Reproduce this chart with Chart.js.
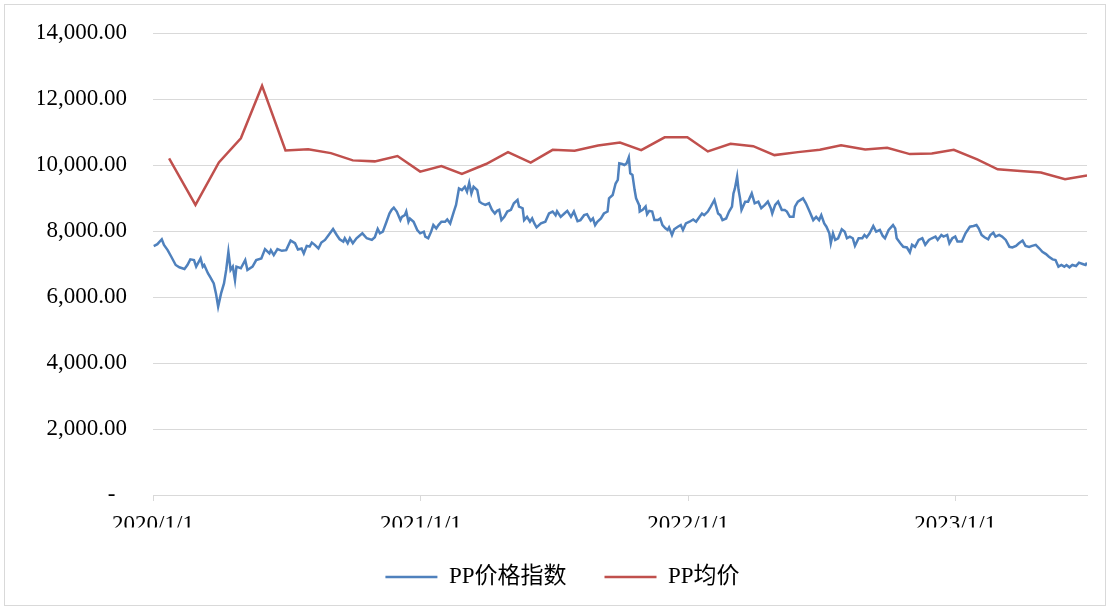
<!DOCTYPE html>
<html>
<head>
<meta charset="utf-8">
<script src="https://cdn.jsdelivr.net/npm/chart.js@4.4.1/dist/chart.umd.min.js"></script>
<style>
html,body{margin:0;padding:0;background:#fff;}
#wrap{position:relative;width:1110px;height:610px;}
canvas{display:block;}
</style>
</head>
<body>
<div id="wrap"><canvas id="c" width="1110" height="610"></canvas></div>
<script>
// ---- Data ----
const seriesNames = ['PP价格指数', 'PP均价'];

// PP price index (daily series, sampled)
const indexDates = [
  '2020-01-02','2020-01-07','2020-01-13','2020-01-16','2020-01-21','2020-01-26',
  '2020-02-01','2020-02-06','2020-02-13','2020-02-17','2020-02-21','2020-02-26','2020-02-29',
  '2020-03-06','2020-03-09','2020-03-11','2020-03-16','2020-03-20','2020-03-24','2020-03-27','2020-03-30',
  '2020-04-03','2020-04-07','2020-04-10','2020-04-13','2020-04-16','2020-04-19','2020-04-22','2020-04-24','2020-04-30',
  '2020-05-06','2020-05-09','2020-05-16','2020-05-21','2020-05-28',
  '2020-06-02','2020-06-08','2020-06-10','2020-06-14','2020-06-19','2020-06-25',
  '2020-07-01','2020-07-07','2020-07-13','2020-07-17','2020-07-22','2020-07-25','2020-07-29',
  '2020-08-02','2020-08-05','2020-08-09','2020-08-14','2020-08-18','2020-08-23','2020-08-28',
  '2020-09-03','2020-09-08','2020-09-12','2020-09-17','2020-09-19','2020-09-23','2020-09-26','2020-09-30',
  '2020-10-05','2020-10-13','2020-10-19','2020-10-26','2020-10-30',
  '2020-11-03','2020-11-06','2020-11-10','2020-11-15','2020-11-19','2020-11-22','2020-11-25','2020-11-29',
  '2020-12-04','2020-12-06','2020-12-10','2020-12-12','2020-12-15','2020-12-17','2020-12-22','2020-12-27','2020-12-31',
  '2021-01-05','2021-01-07','2021-01-11','2021-01-15','2021-01-18','2021-01-22','2021-01-25','2021-01-29',
  '2021-02-03','2021-02-06','2021-02-10','2021-02-15','2021-02-18','2021-02-22','2021-02-26',
  '2021-03-02','2021-03-05','2021-03-08','2021-03-11','2021-03-14','2021-03-19','2021-03-22','2021-03-25','2021-03-30',
  '2021-04-04','2021-04-08','2021-04-12','2021-04-15','2021-04-18','2021-04-21','2021-04-25','2021-04-29',
  '2021-05-04','2021-05-08','2021-05-13','2021-05-15','2021-05-20','2021-05-22','2021-05-26','2021-05-30',
  '2021-06-02','2021-06-05','2021-06-08','2021-06-14','2021-06-20','2021-06-25','2021-06-30',
  '2021-07-04','2021-07-06','2021-07-11','2021-07-16','2021-07-20','2021-07-25','2021-07-29',
  '2021-08-03','2021-08-07','2021-08-12','2021-08-16','2021-08-21','2021-08-24','2021-08-27','2021-08-30',
  '2021-09-04','2021-09-08','2021-09-13','2021-09-15','2021-09-20','2021-09-24','2021-09-27','2021-09-29',
  '2021-10-03','2021-10-06','2021-10-09','2021-10-12','2021-10-14','2021-10-17','2021-10-20','2021-10-22','2021-10-26','2021-10-27','2021-10-31',
  '2021-11-04','2021-11-06','2021-11-09','2021-11-13','2021-11-16','2021-11-21','2021-11-24','2021-11-27',
  '2021-12-01','2021-12-04','2021-12-06','2021-12-10','2021-12-13','2021-12-18','2021-12-22','2021-12-25','2021-12-29',
  '2022-01-03','2022-01-08','2022-01-12','2022-01-16','2022-01-20','2022-01-23','2022-01-28',
  '2022-02-01','2022-02-06','2022-02-11','2022-02-14','2022-02-17','2022-02-22','2022-02-26',
  '2022-03-02','2022-03-04','2022-03-06','2022-03-09','2022-03-11','2022-03-13','2022-03-15','2022-03-20','2022-03-24','2022-03-29',
  '2022-04-02','2022-04-07','2022-04-11','2022-04-16','2022-04-20','2022-04-24','2022-04-26','2022-04-30',
  '2022-05-04','2022-05-09','2022-05-13','2022-05-16','2022-05-20','2022-05-25','2022-05-27','2022-05-31',
  '2022-06-07','2022-06-11','2022-06-16','2022-06-21','2022-06-25','2022-06-29',
  '2022-07-02','2022-07-06','2022-07-09','2022-07-13','2022-07-15','2022-07-18','2022-07-21','2022-07-25','2022-07-30',
  '2022-08-03','2022-08-06','2022-08-10','2022-08-14','2022-08-17','2022-08-22','2022-08-27','2022-08-30',
  '2022-09-02','2022-09-06','2022-09-11','2022-09-15','2022-09-20','2022-09-24','2022-09-27',
  '2022-10-02','2022-10-08','2022-10-11','2022-10-13','2022-10-18','2022-10-22','2022-10-27','2022-10-31',
  '2022-11-03','2022-11-07','2022-11-12','2022-11-17','2022-11-21','2022-11-26','2022-11-30',
  '2022-12-05','2022-12-08','2022-12-13','2022-12-16','2022-12-21','2022-12-24','2022-12-28',
  '2023-01-01','2023-01-04','2023-01-10','2023-01-15','2023-01-21','2023-01-26','2023-01-30',
  '2023-02-02','2023-02-06','2023-02-10','2023-02-15','2023-02-18','2023-02-22','2023-02-25',
  '2023-03-02','2023-03-06','2023-03-11','2023-03-16','2023-03-20','2023-03-25','2023-03-29',
  '2023-04-03','2023-04-07','2023-04-12','2023-04-16','2023-04-21','2023-04-26','2023-04-30',
  '2023-05-05','2023-05-09','2023-05-14','2023-05-18','2023-05-22','2023-05-26','2023-05-30',
  '2023-06-02','2023-06-06','2023-06-10','2023-06-15','2023-06-19','2023-06-24','2023-06-28','2023-06-30'
];
const indexValues = [
  7545,7600,7750,7575,7420,7220,
  6970,6900,6850,6970,7140,7120,6920,
  7170,6920,6970,6720,6570,6410,6110,5710,
  6110,6410,6820,7370,6820,6920,6510,6920,6870,
  7120,6820,6920,7120,7170,
  7450,7320,7420,7270,7450,7400,
  7420,7710,7630,7440,7470,7320,7550,
  7530,7650,7580,7470,7650,7730,7880,
  8060,7880,7750,7680,7780,7630,7780,7630,
  7780,7930,7780,7730,7810,
  8060,7930,7980,8280,8530,8640,8710,8590,
  8330,8430,8480,8590,8280,8380,8280,8030,7930,
  7980,7830,7780,7980,8180,8080,8180,8280,
  8280,8350,8230,8590,8790,9290,9240,
  9340,9190,9460,9140,9340,9240,8890,8840,8790,
  8840,8640,8530,8610,8640,8330,8430,8590,
  8640,8840,8940,8740,8690,8330,8430,8280,
  8380,8230,8110,8230,8280,8530,8590,
  8480,8600,8430,8530,8610,8430,8590,
  8300,8330,8480,8510,8310,8380,8180,8280,
  8380,8530,8590,8990,9090,9440,9550,10050,
  10030,10000,10050,10230,9750,9700,9240,8990,8790,8590,8640,
  8740,8510,8610,8590,8330,8330,8380,8180,
  8080,8030,8110,7880,8050,8130,8180,8030,8230,
  8280,8350,8280,8410,8530,8480,8590,
  8740,8940,8530,8480,8330,8380,8590,
  8740,9140,9290,9650,9240,8990,8640,8890,8890,9140,
  8840,8890,8690,8790,8890,8690,8530,8790,
  8890,8640,8640,8590,8430,8430,8740,8890,
  8990,8840,8590,8330,8430,8330,
  8480,8230,8130,7930,7630,7930,7730,7780,8050,
  7980,7780,7830,7780,7550,7780,7780,7880,
  7810,7930,8150,7980,8030,7850,7780,
  8030,8180,8080,7780,7630,7520,7500,7350,
  7580,7520,7730,7780,7580,7730,7780,
  7830,7730,7880,7830,7880,7630,7780,
  7830,7680,7680,7930,8130,8150,8180,
  8080,7880,7810,7750,7880,7950,7830,
  7880,7830,7730,7520,7500,7550,7630,
  7710,7550,7520,7550,7580,7470,7370,
  7300,7220,7140,7120,6920,6970,6920,
  6970,6900,6970,6940,7040,7000,6970,7040
];

// PP average price (month-end values)
const avgDates = [
  '2020-01-23','2020-02-28','2020-03-31','2020-04-30','2020-05-29','2020-06-30',
  '2020-07-31','2020-08-31','2020-09-30','2020-10-30','2020-11-30','2020-12-31',
  '2021-01-29','2021-02-26','2021-03-31','2021-04-30','2021-05-31','2021-06-30',
  '2021-07-30','2021-08-31','2021-09-30','2021-10-29','2021-11-30','2021-12-31',
  '2022-01-28','2022-02-28','2022-03-31','2022-04-29','2022-05-31','2022-06-30',
  '2022-07-29','2022-08-31','2022-09-30','2022-10-31','2022-11-30','2022-12-30',
  '2023-01-31','2023-02-28','2023-03-31','2023-04-28','2023-05-31','2023-06-30'
];
const avgValues = [
  10200, 8790,10080,10810,12400,10440,
  10480,10360,10140,10110,10270, 9800,
   9970, 9730,10030,10390,10070,10460,
  10430,10590,10680,10450,10840,10840,
  10410,10640,10570,10300,10390,10460,
  10600,10470,10520,10330,10350,10460,
  10170, 9870, 9820, 9770, 9570, 9680
];

const xStartDate = '2020-01-01';
const xEndDate = '2023-06-30';
const xTickDates = ['2020-01-01','2021-01-01','2022-01-01','2023-01-01'];
const xTickLabels = ['2020/1/1','2021/1/1','2022/1/1','2023/1/1'];
const yMin = 0, yMax = 14000, yStep = 2000;

// ---- helpers ----
const base = Date.UTC(2020, 0, 1);
function toDay(s) {
  const [y, m, d] = s.split('-').map(Number);
  return Math.round((Date.UTC(y, m - 1, d) - base) / 86400000);
}
const indexPoints = indexDates.map((d, i) => ({x: toDay(d), y: indexValues[i]}));
const avgPoints = avgDates.map((d, i) => ({x: toDay(d), y: avgValues[i]}));
const tickDays = xTickDates.map(toDay);

const FONT = "'Liberation Serif', 'Times New Roman', 'Noto Sans CJK SC', serif";
const FSIZE = 23;
const BLUE = '#4F81BD';
const RED = '#C0504D';
const GRID = '#d9d9d9';

const borderPlugin = {
  id: 'outerBorder',
  beforeDraw(chart) {
    const ctx = chart.ctx;
    ctx.save();
    ctx.fillStyle = '#fff';
    ctx.fillRect(0, 0, chart.width, chart.height);
    ctx.strokeStyle = GRID;
    ctx.lineWidth = 1;
    ctx.strokeRect(4.5, 4.5, chart.width - 9, chart.height - 9);
    ctx.restore();
  }
};

new Chart(document.getElementById('c'), {
  type: 'line',
  data: {
    datasets: [
      {
        label: seriesNames[0],
        data: indexPoints,
        borderColor: BLUE,
        backgroundColor: BLUE,
        borderWidth: 2.5,
        pointRadius: 0,
        tension: 0
      },
      {
        label: seriesNames[1],
        data: avgPoints,
        borderColor: RED,
        backgroundColor: RED,
        borderWidth: 2.5,
        pointRadius: 0,
        tension: 0
      }
    ]
  },
  options: {
    responsive: false,
    animation: false,
    devicePixelRatio: 1,
    layout: {padding: {left: 38, right: 23, top: 33, bottom: 11.5}},
    scales: {
      x: {
        type: 'linear',
        min: toDay(xStartDate),
        max: toDay(xEndDate),
        afterBuildTicks(scale) {
          scale.ticks = tickDays.map(v => ({value: v}));
        },
        afterFit(scale) { scale.height = 32.5; },
        ticks: {
          autoSkip: false,
          maxRotation: 0,
          padding: 10,
          color: '#000',
          font: {family: FONT, size: FSIZE},
          callback(value) {
            const i = tickDays.indexOf(value);
            return i >= 0 ? xTickLabels[i] : '';
          }
        },
        grid: {
          drawOnChartArea: false,
          drawTicks: true,
          tickLength: 6,
          color: GRID
        },
        border: {display: true, color: GRID, width: 1}
      },
      y: {
        min: yMin,
        max: yMax,
        afterFit(scale) { scale.width = 115; },
        ticks: {
          stepSize: yStep,
          padding: 6,
          color: '#000',
          font: {family: FONT, size: FSIZE},
          callback(value) {
            if (value === 0) return '-  ';
            return value.toLocaleString('en-US', {minimumFractionDigits: 2, maximumFractionDigits: 2});
          }
        },
        grid: {
          color: GRID,
          lineWidth: 1,
          drawTicks: true,
          tickLength: 20,
          tickColor: 'rgba(0,0,0,0)'
        },
        border: {display: false}
      }
    },
    plugins: {
      legend: {
        position: 'bottom',
        align: 'center',
        labels: {
          boxWidth: 52,
          boxHeight: 2.5,
          padding: 38,
          color: '#000',
          font: {family: FONT, size: FSIZE},
          generateLabels(chart) {
            return chart.data.datasets.map((ds, i) => ({
              text: ds.label,
              fillStyle: ds.borderColor,
              strokeStyle: ds.borderColor,
              lineWidth: 0,
              hidden: false,
              datasetIndex: i,
              fontColor: '#000'
            }));
          }
        }
      },
      tooltip: {enabled: false}
    }
  },
  plugins: [borderPlugin]
});
</script>
</body>
</html>
